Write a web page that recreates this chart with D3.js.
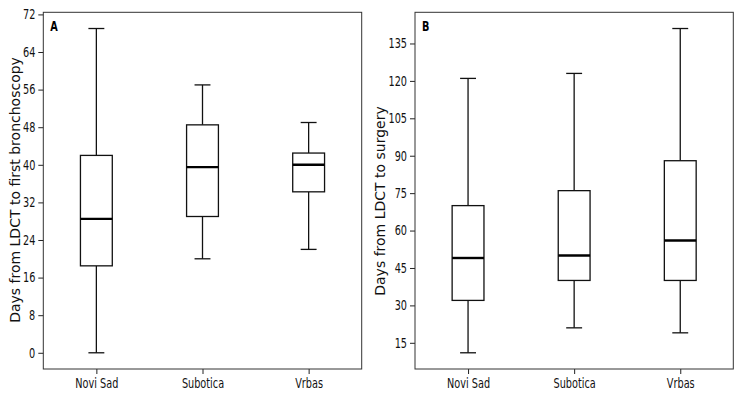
<!DOCTYPE html>
<html>
<head>
<meta charset="utf-8">
<script src="https://cdn.jsdelivr.net/npm/d3@7"></script>
<style>
  body { margin: 0; background: #fff; }
  .tick text { font-family: "DejaVu Sans", sans-serif; font-size: 13.5px; fill: #111; }
</style>
</head>
<body>
<div id="chart"></div>
<script>
// data (min, q1, median, q3, max)
var sites = ["Novi Sad", "Subotica", "Vrbas"];
var bronchoscopyStats = [
  [0, 18.5, 28.5, 42, 69],
  [20, 29, 39.5, 48.5, 57],
  [22, 34.25, 40, 42.5, 49]
];
var surgeryStats = [
  [11, 32, 49, 70, 121],
  [21, 40, 50, 76, 123],
  [19, 40, 56, 88, 141]
];
var bronchoscopyTicks = [0, 8, 16, 24, 32, 40, 48, 56, 64, 72];
var surgeryTicks = [15, 30, 45, 60, 75, 90, 105, 120, 135];

var squeeze = 0.72; // tick labels are set in a narrow face

var svg = d3.select("#chart").append("svg")
  .attr("width", 740)
  .attr("height", 400);

function panel(opts){
  var top = 12.3, bottom = 369;
  var x = d3.scaleLinear().domain([0.5, 3.5]).range([opts.left, opts.right]);
  var lo = d3.min(opts.stats, function(d){ return d[0]; }),
      hi = d3.max(opts.stats, function(d){ return d[4]; }),
      pad = (hi - lo) * 0.05;
  var y = d3.scaleLinear().domain([lo - pad, hi + pad]).range([bottom, top]);
  var g = svg.append("g");

  // axes
  var yAxis = g.append("g")
    .attr("transform", "translate(" + opts.left + ",0)")
    .call(d3.axisLeft(y).tickValues(opts.ticks).tickSize(5).tickPadding(3));
  yAxis.selectAll(".tick text")
    .attr("x", -8 / squeeze)
    .attr("transform", "scale(" + squeeze + ",1)");
  var xAxis = g.append("g")
    .attr("transform", "translate(0," + bottom + ")")
    .call(d3.axisBottom(x).tickValues([1, 2, 3]).tickSize(5).tickPadding(4)
      .tickFormat(function(d){ return sites[d - 1]; }));
  xAxis.selectAll(".tick text")
    .attr("transform", "scale(" + squeeze + ",1)");
  g.selectAll(".domain").remove();
  g.selectAll(".tick line").attr("stroke", "#222");

  // frame
  g.append("rect")
    .attr("x", opts.left)
    .attr("y", top)
    .attr("width", opts.right - opts.left)
    .attr("height", bottom - top)
    .attr("fill", "none")
    .attr("stroke", "#333")
    .attr("stroke-width", 1);

  var bw = (x(1.15) - x(0.85)), cap = bw / 2;
  var boxes = g.selectAll(".box")
    .data(opts.stats)
    .enter()
    .append("g")
    .attr("class", "box")
    .attr("transform", function(d, i){ return "translate(" + x(i + 1) + ",0)"; });

  // whiskers
  boxes.append("line")
    .attr("y1", function(d){ return y(d[0]); })
    .attr("y2", function(d){ return y(d[1]); })
    .attr("stroke", "#111").attr("stroke-width", 1.3);
  boxes.append("line")
    .attr("y1", function(d){ return y(d[3]); })
    .attr("y2", function(d){ return y(d[4]); })
    .attr("stroke", "#111").attr("stroke-width", 1.3);
  // caps
  [0, 4].forEach(function(k){
    boxes.append("line")
      .attr("x1", -cap / 2).attr("x2", cap / 2)
      .attr("y1", function(d){ return y(d[k]); })
      .attr("y2", function(d){ return y(d[k]); })
      .attr("stroke", "#111").attr("stroke-width", 1.3);
  });
  // box
  boxes.append("rect")
    .attr("x", -bw / 2)
    .attr("width", bw)
    .attr("y", function(d){ return y(d[3]); })
    .attr("height", function(d){ return y(d[1]) - y(d[3]); })
    .attr("fill", "#fff")
    .attr("stroke", "#111").attr("stroke-width", 1.3);
  // median
  boxes.append("line")
    .attr("x1", -bw / 2).attr("x2", bw / 2)
    .attr("y1", function(d){ return y(d[2]); })
    .attr("y2", function(d){ return y(d[2]); })
    .attr("stroke", "#000").attr("stroke-width", 2.4);

  // panel letter
  g.append("text")
    .attr("transform", "translate(" + (opts.left + 7) + ",30.5) scale(" + squeeze + ",1)")
    .style("font-family", "'DejaVu Sans', sans-serif")
    .style("font-weight", "bold")
    .style("font-size", "13.5px")
    .text(opts.letter);

  // y label
  g.append("text")
    .attr("transform", "translate(" + opts.labelX + "," + opts.labelY + ") rotate(-90)")
    .attr("text-anchor", "middle")
    .style("font-family", "'DejaVu Sans', sans-serif")
    .style("font-size", "14px")
    .style("fill", "#111")
    .text(opts.label);
}

panel({left: 43.3, right: 361.7, stats: bronchoscopyStats, ticks: bronchoscopyTicks,
  letter: "A", label: "Days from LDCT to first bronchoscopy", labelX: 19.5, labelY: 190});
panel({left: 415, right: 733.3, stats: surgeryStats, ticks: surgeryTicks,
  letter: "B", label: "Days from LDCT to surgery", labelX: 385, labelY: 201});
</script>
</body>
</html>
